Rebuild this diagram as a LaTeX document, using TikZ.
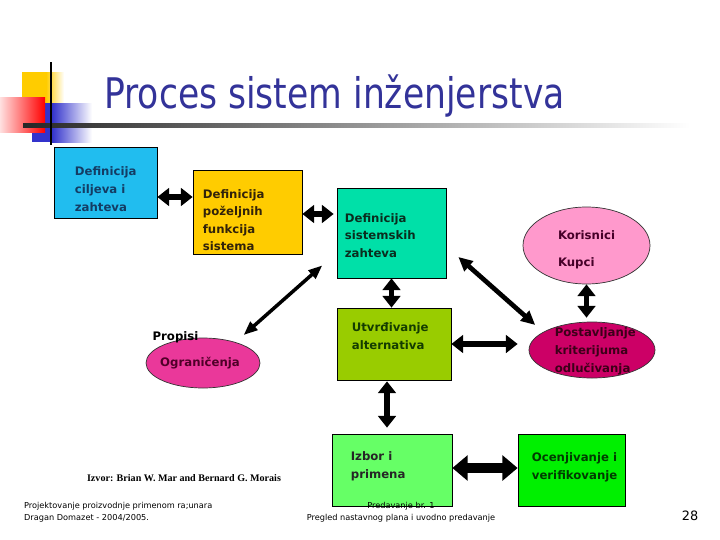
\documentclass[tikz,border=0pt]{standalone}
\usepackage{fontspec}
\setmainfont{DejaVu Sans}
\newfontfamily\srcfont{Liberation Serif}
\usetikzlibrary{arrows.meta, positioning, shapes.geometric, calc}

\definecolor{titleblue}{RGB}{51,51,153}
\definecolor{boxcyan}{RGB}{33,189,239}
\definecolor{boxgold}{RGB}{255,204,0}
\definecolor{boxteal}{RGB}{0,224,168}
\definecolor{boxolive}{RGB}{153,204,0}
\definecolor{boxlime}{RGB}{102,255,102}
\definecolor{boxgreen}{RGB}{0,240,0}
\definecolor{blobpink}{RGB}{255,153,204}
\definecolor{blobhot}{RGB}{234,56,154}
\definecolor{blobwine}{RGB}{204,0,102}
\definecolor{decoyellow}{RGB}{255,204,0}
\definecolor{decoblue}{RGB}{51,51,204}

\begin{document}
\begin{tikzpicture}[x=0.3mm, y=-0.3mm,
    box/.style={rectangle, draw=black, line width=0.6pt},
    boxtext/.style={align=left, inner sep=0pt, anchor=west, font=\bfseries\fontsize{10}{15.4}\selectfont},
    blob/.style={ellipse, draw=black!80, line width=0.6pt},
    blobtext/.style={align=left, font=\bfseries\fontsize{10}{15}\selectfont},
    dblarrow/.style={{Triangle[width=15pt, length=10pt]}-{Triangle[width=15pt, length=10pt]}, line width=5pt},
    bigarrow/.style={{Triangle[width=21pt, length=13pt]}-{Triangle[width=21pt, length=13pt]}, line width=8.5pt},
    diagarrow/.style={{Triangle[width=11pt, length=12pt]}-{Triangle[width=11pt, length=12pt]}, line width=4pt},
    thinarrow/.style={{Triangle[width=9pt, length=12pt]}-{Triangle[width=9pt, length=12pt]}, line width=3pt},
    foot/.style={font=\fontsize{7}{10}\selectfont}
]
\useasboundingbox (0,0) rectangle (720,540);

% title decoration
\fill[decoyellow] (22,72) rectangle (46,103);
\shade[left color=decoyellow, right color=white] (46,72) rectangle (64,103);
\fill[decoblue] (32,103) rectangle (52,142);
\shade[left color=decoblue, right color=white] (52,103) rectangle (92,142);
\shade[left color=red!12, right color=red] (0,97) rectangle (45,132);
\shade[left color=black!85, right color=white] (23,123.5) rectangle (690,127);
\draw[line width=2pt] (51,62) -- (51,145);

\node[anchor=base west, text=titleblue, font=\fontsize{36}{40}\selectfont] (title) at (100,108)
    {\scalebox{0.82}[1]{Proces sistem inženjerstva}};

% boxes
\node[box, fill=boxcyan, minimum width=30.9mm, minimum height=21.3mm,
      label={[boxtext, text={rgb,255:red,20;green,60;blue,100}, xshift=6.3mm, yshift=-1.95mm]west:Definicija\\ciljeva i\\zahteva}]
      (ciljevi) at (105.5,182.5) {};
\node[box, fill=boxgold, minimum width=32.7mm, minimum height=25.2mm,
      label={[boxtext, text={rgb,255:red,50;green,35;blue,10}, font=\bfseries\fontsize{10}{14.8}\selectfont, xshift=3mm, yshift=-2.4mm]west:Definicija\\poželjnih\\funkcija\\sistema}]
      (funkcije) at (247.5,212) {};
\node[box, fill=boxteal, minimum width=32.7mm, minimum height=27mm,
      label={[boxtext, text={rgb,255:red,10;green,45;blue,30}, font=\bfseries\fontsize{10}{15}\selectfont, xshift=2.4mm, yshift=-0.75mm]west:Definicija\\sistemskih\\zahteva}]
      (zahtevi) at (391.5,233) {};
\node[box, fill=boxolive, minimum width=34.2mm, minimum height=21.6mm,
      label={[boxtext, text={rgb,255:red,20;green,60;blue,0}, xshift=4.5mm, yshift=2.4mm]west:Utvrđivanje\\alternativa}]
      (alternative) at (394,344) {};
\node[box, fill=boxlime, minimum width=36mm, minimum height=21.6mm,
      label={[boxtext, text=black!85, xshift=5.7mm, yshift=1.2mm]west:Izbor i\\primena}]
      (izbor) at (392,470) {};
\node[box, fill=boxgreen, minimum width=32.1mm, minimum height=21.6mm,
      label={[boxtext, text={rgb,255:red,0;green,60;blue,0}, xshift=4.2mm, yshift=0.9mm]west:Ocenjivanje i\\verifikovanje}]
      (ocenjivanje) at (571.5,470) {};

% ellipses
\node[blob, fill=blobpink, minimum width=38.1mm, minimum height=23.1mm,
      label={[blobtext, text={rgb,255:red,70;green,0;blue,40}, font=\bfseries\fontsize{10}{22.5}\selectfont, yshift=-1.3mm]center:Korisnici\\Kupci}]
      (korisnici) at (586.5,245.5) {};
\node[blob, fill=blobwine, minimum width=37.8mm, minimum height=16.8mm,
      label={[blobtext, text={rgb,255:red,60;green,0;blue,25}, xshift=1mm, yshift=-0.4mm]center:Postavljanje\\kriterijuma\\odlučivanja}]
      (post) at (592,350) {};
\node[blob, fill=blobhot, minimum width=34.2mm, minimum height=15mm,
      label={[blobtext, text={rgb,255:red,80;green,0;blue,40}, xshift=-0.9mm]center:Ograničenja}]
      (ogranicenja) at (203,363) {};
\node[font=\bfseries\fontsize{10}{12}\selectfont] (propisi) at (175.5,337) {Propisi};

% connectors
\draw[dblarrow] ($(ciljevi.east)+(0,14.5)$) -- ($(funkcije.west)+(0,-15)$);
\draw[dblarrow] ($(funkcije.east)+(0,2)$) -- ($(zahtevi.west)+(-3,-19)$);
\draw[dblarrow] (zahtevi.south) -- (zahtevi.south |- alternative.north);
\draw[dblarrow] (korisnici.south) -- ($(korisnici.south |- post.north)+(0,-4)$);
\draw[dblarrow] (alternative.east) -- ($(alternative.east -| post.west)+(-11,0)$);
\draw[dblarrow] ($(alternative.south)+(-7,1)$) -- ($(izbor.north)+(-5,-6)$);
\draw[bigarrow] ($(izbor.east)+(0,-2)$) -- ($(ocenjivanje.west)+(0,-2)$);
\draw[diagarrow] ($(zahtevi.east)+(12,24)$) -- ($(post.north west)+(-12,-5)$);
\draw[thinarrow] ($(funkcije.south east)+(20,11)$) -- ($(ogranicenja.north east)+(0,-10)$);

% footer
\node[font=\srcfont\bfseries\fontsize{8.6}{10}\selectfont] (izvor) at (184,478) {Izvor: Brian W. Mar and Bernard G. Morais};
\node[foot, anchor=west, align=left] (kurs) at (20,512) {Projektovanje proizvodnje primenom ra;unara\\Dragan Domazet - 2004/2005.};
\node[foot, align=center] (predavanje) at (401,512) {Predavanje br. 1\\Pregled nastavnog plana i uvodno predavanje};
\node[font=\fontsize{11}{13}\selectfont] (strana) at (690,516) {28};
\end{tikzpicture}
\end{document}
